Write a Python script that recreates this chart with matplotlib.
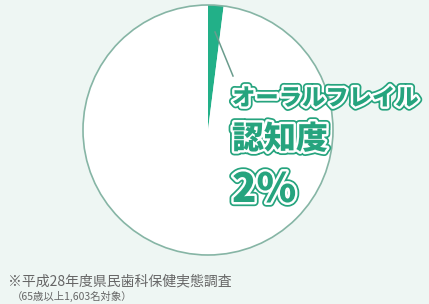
import matplotlib.pyplot as plt
import matplotlib.patheffects as pe
from matplotlib.patches import Circle

# === Data ===
labels = ['オーラルフレイル認知度', 'その他']
values = [2, 98]
title_lines = ['オーラルフレイル', '認知度']
pct_text = '2%'
note_lines = ['※平成28年度県民歯科保健実態調査', '（65歳以上1,603名対象）']

# === Style ===
bg = '#eef6f3'
green = '#22b088'
text_green = '#26a47e'
plt.rcParams['font.family'] = ['Noto Sans CJK JP', 'DejaVu Sans']

W, H = 429, 304
fig = plt.figure(figsize=(W / 100, H / 100), dpi=100, facecolor=bg)
ax = fig.add_axes([0, 0, 1, 1])
ax.set_facecolor(bg)

cx, cy, r = 208, H - 130, 125
ax.pie(values, colors=[green, 'white'], startangle=90, counterclock=False,
       center=(cx, cy), radius=r, wedgeprops=dict(linewidth=0))
ax.add_patch(Circle((cx, cy), r, fill=False, edgecolor='#86b5a5', linewidth=1.2))

# leader line
ax.plot([215, 233], [H - 32, H - 76], color='#6a9c8d', linewidth=1.1)

outline = [pe.Stroke(linewidth=6, foreground=text_green),
           pe.Stroke(linewidth=3.5, foreground='white'), pe.Normal()]
ax.text(232, H - 98, title_lines[0], fontsize=16.8, fontweight='black',
        color=text_green, va='center', ha='left', path_effects=outline)
ax.text(232, H - 139, title_lines[1], fontsize=23, fontweight='black',
        color=text_green, va='center', ha='left', path_effects=outline)
ax.text(232, H - 190, pct_text, fontsize=29, fontweight='black',
        color=text_green, va='center', ha='left', path_effects=outline)

ax.text(8, H - 281, note_lines[0], fontsize=10, color='#666666', va='center', ha='left')
ax.text(12, H - 296, note_lines[1], fontsize=7.5, color='#666666', va='center', ha='left')

ax.set_xlim(0, W)
ax.set_ylim(0, H)
ax.set_aspect('auto')
ax.axis('off')
fig.savefig('out.png', dpi=100, facecolor=bg)
